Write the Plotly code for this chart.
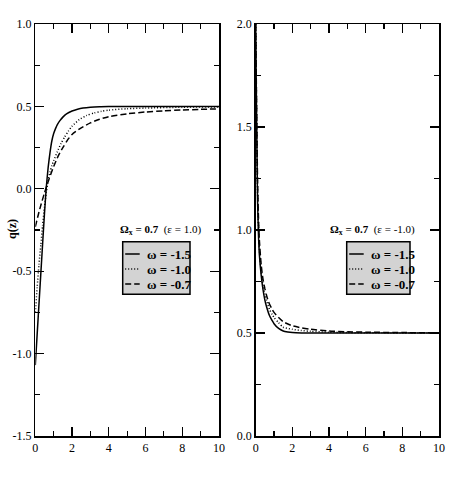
import plotly.graph_objects as go

# ---------------- data ----------------
omega_labels = ["ω = -1.5", "ω = -1.0", "ω = -0.7"]

# left panel: eps = 1.0
z_l_15 = [0, 0.1, 0.2, 0.3, 0.4, 0.5, 0.6, 0.7, 0.8, 0.9, 1.0, 1.1, 1.2, 1.35, 1.5, 1.7, 2.0, 2.3, 2.6, 3.0, 3.5, 4.0, 5.0, 10.0]
q_l_15 = [-1.07, -0.885, -0.70, -0.515, -0.33, -0.15, 0.01, 0.13, 0.22, 0.29, 0.335, 0.365, 0.39, 0.415, 0.435, 0.455, 0.472, 0.483, 0.49, 0.495, 0.498, 0.499, 0.5, 0.5]

z_l_10 = [0, 0.1, 0.2, 0.3, 0.4, 0.5, 0.6, 0.7, 0.8, 0.9, 1.0, 1.2, 1.4, 1.6, 1.8, 2.0, 2.4, 2.8, 3.2, 3.6, 4.0, 5.0, 6.0, 8.0, 10.0]
q_l_10 = [-0.75, -0.60, -0.46, -0.34, -0.22, -0.11, -0.02, 0.05, 0.10, 0.14, 0.17, 0.225, 0.275, 0.315, 0.35, 0.38, 0.42, 0.445, 0.46, 0.47, 0.477, 0.486, 0.49, 0.495, 0.497]

z_l_07 = [0, 0.25, 0.5, 0.75, 1.0, 1.25, 1.5, 1.75, 2.0, 2.5, 3.0, 3.5, 4.0, 5.0, 6.0, 7.0, 8.0, 9.0, 10.0]
q_l_07 = [-0.23, -0.12, -0.025, 0.06, 0.135, 0.20, 0.25, 0.295, 0.33, 0.37, 0.40, 0.422, 0.438, 0.455, 0.466, 0.473, 0.478, 0.482, 0.485]

# right panel: eps = -1.0
z_r_15 = [0, 0.03, 0.06, 0.1, 0.15, 0.2, 0.3, 0.4, 0.5, 0.6, 0.75, 0.9, 1.0, 1.25, 1.5, 1.75, 2.0, 2.5, 10.0]
q_r_15 = [2.0, 1.70, 1.45, 1.15, 0.98, 0.88, 0.78, 0.71, 0.66, 0.625, 0.585, 0.56, 0.545, 0.522, 0.51, 0.505, 0.502, 0.5, 0.5]

z_r_10 = [0, 0.03, 0.06, 0.1, 0.15, 0.2, 0.3, 0.4, 0.5, 0.6, 0.75, 0.9, 1.0, 1.25, 1.5, 2.0, 2.5, 3.0, 4.0, 5.0, 6.0, 10.0]
q_r_10 = [2.0, 1.72, 1.48, 1.20, 1.02, 0.91, 0.80, 0.73, 0.69, 0.655, 0.615, 0.59, 0.575, 0.55, 0.528, 0.518, 0.512, 0.508, 0.504, 0.502, 0.501, 0.5]

z_r_07 = [0, 0.03, 0.06, 0.1, 0.15, 0.2, 0.3, 0.4, 0.5, 0.6, 0.75, 0.9, 1.0, 1.25, 1.5, 2.0, 2.5, 3.0, 4.0, 5.0, 6.0, 8.0, 10.0]
q_r_07 = [2.0, 1.75, 1.52, 1.25, 1.06, 0.95, 0.83, 0.76, 0.715, 0.68, 0.64, 0.615, 0.60, 0.575, 0.555, 0.535, 0.525, 0.518, 0.51, 0.506, 0.504, 0.502, 0.501]

x_ticks = [0, 2, 4, 6, 8, 10]
x_ticktext = ["0", "2", "4", "6", "8", "10"]
yl_ticks = [-1.5, -1.0, -0.5, 0.0, 0.5, 1.0]
yl_ticktext = ["-1.5", "-1.0", "-0.5", "0.0", "0.5", "1.0"]
yr_ticks = [0.0, 0.5, 1.0, 1.5, 2.0]
yr_ticktext = ["0.0", "0.5", "1.0", "1.5", "2.0"]

title_left = "<b>Ω<sub>x</sub> = 0.7</b>\u00a0\u00a0(ε = 1.0)"
title_right = "<b>Ω<sub>x</sub> = 0.7</b>\u00a0\u00a0(ε = -1.0)"
ylabel_left = "<b>q(z)</b>"

# ---------------- styling ----------------
W, H = 457, 485
FONT = "Liberation Serif"
dashes = ["solid", "1px,2px", "6px,3px"]
LW = 1.5


def px(x):
    return x / W


def py(y):
    return 1 - y / H


fig = go.Figure()

left = [(z_l_15, q_l_15), (z_l_10, q_l_10), (z_l_07, q_l_07)]
right = [(z_r_15, q_r_15), (z_r_10, q_r_10), (z_r_07, q_r_07)]

for i, (z, q) in enumerate(left):
    fig.add_trace(go.Scatter(x=z, y=q, mode="lines", xaxis="x", yaxis="y",
                             line=dict(color="black", width=LW, dash=dashes[i], shape="spline", smoothing=0.6),
                             name=omega_labels[i], showlegend=False))
for i, (z, q) in enumerate(right):
    fig.add_trace(go.Scatter(x=z, y=q, mode="lines", xaxis="x2", yaxis="y2",
                             line=dict(color="black", width=LW, dash=dashes[i], shape="spline", smoothing=0.6),
                             name=omega_labels[i], showlegend=False))

axis_common = dict(showline=True, linecolor="black", linewidth=1.5, mirror="ticks",
                   ticks="inside", ticklen=9, tickwidth=1.2, tickcolor="black",
                   showgrid=False, zeroline=False, automargin=False,
                   tickfont=dict(family=FONT, size=12, color="black"))

fig.update_layout(
    template="none",
    width=W, height=H,
    margin=dict(l=0, r=0, t=0, b=0, pad=0),
    font=dict(family=FONT, color="black"),
    paper_bgcolor="white", plot_bgcolor="white",
    showlegend=False,
    xaxis=dict(domain=[px(35.3), px(219)], range=[0, 10], tickvals=x_ticks, ticktext=x_ticktext,
               minor=dict(dtick=1, ticks="inside", ticklen=5, tickwidth=1.2, tickcolor="black"),
               anchor="y", **axis_common),
    yaxis=dict(domain=[py(436), py(24)], range=[-1.5, 1.0], tickvals=yl_ticks, ticktext=yl_ticktext,
               minor=dict(dtick=0.25, tick0=0, ticks="inside", ticklen=5, tickwidth=1.2, tickcolor="black"),
               anchor="x", **axis_common),
    xaxis2=dict(domain=[px(255.7), px(439)], range=[0, 10], tickvals=x_ticks, ticktext=x_ticktext,
                minor=dict(dtick=1, ticks="inside", ticklen=5, tickwidth=1.2, tickcolor="black"),
                anchor="y2", **axis_common),
    yaxis2=dict(domain=[py(436), py(24)], range=[0, 2.0], tickvals=yr_ticks, ticktext=yr_ticktext,
                minor=dict(dtick=0.25, tick0=0, ticks="inside", ticklen=5, tickwidth=1.2, tickcolor="black"),
                anchor="x2", **axis_common),
)

shapes = []
annotations = []

# y-axis title left
annotations.append(dict(x=px(12), y=py(229), xref="paper", yref="paper", text=ylabel_left,
                        showarrow=False, textangle=-90, font=dict(family=FONT, size=12, color="black"),
                        xanchor="center", yanchor="middle"))

# legends (drawn manually)
for (bx0, bx1, tx, title) in [(122.7, 190.0, 160.0, title_left), (346.7, 410.0, 372.0, title_right)]:
    annotations.append(dict(x=px(tx), y=py(230), xref="paper", yref="paper", text=title,
                            showarrow=False, font=dict(family=FONT, size=11, color="black"),
                            xanchor="center", yanchor="middle"))
    shapes.append(dict(type="rect", xref="paper", yref="paper",
                       x0=px(bx0), x1=px(bx1), y0=py(294.3), y1=py(241.7),
                       fillcolor="#d3d3d3", line=dict(color="black", width=1.5), layer="above"))
    rows = [254, 269, 284]
    for i, ry in enumerate(rows):
        shapes.append(dict(type="line", xref="paper", yref="paper",
                           x0=px(bx0 + 2.5), x1=px(bx0 + 17), y0=py(ry), y1=py(ry),
                           line=dict(color="black", width=LW, dash=dashes[i]), layer="above"))
        annotations.append(dict(x=px(bx0 + 22), y=py(ry), xref="paper", yref="paper",
                                text="<b>" + omega_labels[i] + "</b>", showarrow=False,
                                font=dict(family=FONT, size=13, color="black"),
                                xanchor="left", yanchor="middle"))

fig.update_layout(shapes=shapes, annotations=annotations)

fig.write_html("out.html",
               config={"displayModeBar": False, "staticPlot": True},
               post_script="document.body.style.margin='0';document.body.style.padding='0';")
